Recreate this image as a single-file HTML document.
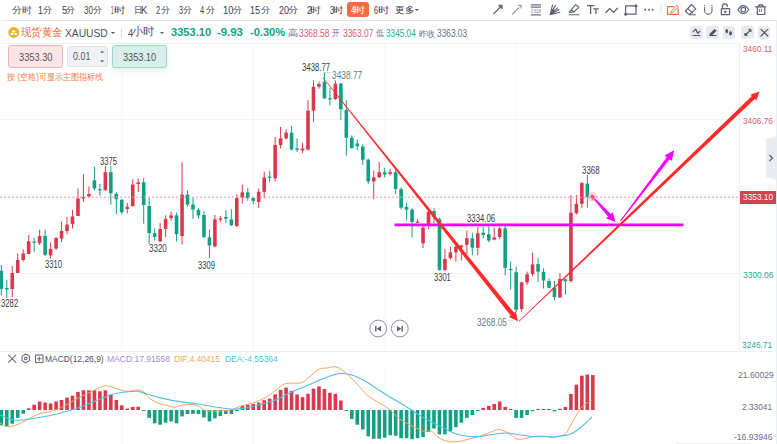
<!DOCTYPE html>
<html><head><meta charset="utf-8">
<style>
*{box-sizing:border-box;margin:0;padding:0}
html,body{width:777px;height:444px;overflow:hidden;background:#fff}
body{position:relative;font-family:"Liberation Sans",sans-serif;color:#333}
.a{position:absolute;white-space:nowrap;line-height:1}
.tb{font-size:9.3px;color:#3d4150;top:5.8px}
.hl{position:absolute;height:1px;background:#e3e5ec}
.ic{position:absolute}
.ax{position:absolute;font-size:9px;line-height:1;white-space:nowrap}
.lbl{position:absolute;font-size:9.5px;line-height:1;white-space:nowrap;color:#333}
.tx{position:absolute;white-space:nowrap;line-height:1;transform-origin:0 0}
.btn{position:absolute;top:26px;width:13px;height:14px;background:#e8eaf0;border-radius:3px}
</style></head><body>
<!-- toolbar row -->
<div class="a" style="left:347px;top:2px;width:22px;height:15px;background:#fd6a3e;border-radius:3px"></div>
<div class="a" style="left:414.5px;top:8.8px;width:0;height:0;border-left:2.2px solid transparent;border-right:2.2px solid transparent;border-top:2.8px solid #555"></div>
<div class="hl" style="left:1px;top:19.5px;width:775px;height:1.5px;background:#e2e4eb"></div>

<!-- toolbar icons -->
<svg class="ic" style="left:480px;top:0" width="297" height="20" viewBox="480 0 297 20">
 <g fill="none" stroke="#5d6275" stroke-width="1.2" stroke-linecap="round" stroke-linejoin="round">
  <path d="M493.8 13.6 L500.5 7" stroke-width="1.3"/><path d="M498.8 5.2 L502.3 5.2 L502.1 8.7 Z" fill="#5d6275" stroke-width="0.8"/>
  <path d="M512.8 13.8 L519.3 7.4" stroke-dasharray="1.1 1.3" stroke="#7d8295" stroke-width="1.2"/><path d="M518.6 5.4 L521.2 5.4 L521 8" stroke="#7d8295" stroke-width="1"/>
  <path d="M530.8 4.9 H541 M530.8 7.2 H541 M530.8 14.8 H541" stroke-width="1.3" stroke="#6d7285" stroke-linecap="butt"/>
  <path d="M550.2 14.6 L552.5 5 M550.2 14.6 L555.4 5.6 M550.2 14.6 L557.5 7.8 M550.2 14.6 L559 9.6 M550.2 14.6 L559.8 12.3" stroke-width="1.1"/>
  <path d="M550.2 14.6 L552 9 L555.5 10.5 Z" fill="#5d6275" stroke="none"/>
  <path d="M569.3 12.4 L575.6 4.6 L578.9 7.3 L573.8 12 Z M571.2 9.6 L573.8 12" stroke-width="1.1"/><path d="M569.2 14.8 H578.9" stroke-width="1.1"/>
  <path d="M587 5.7 H594.4 M590.6 5.7 V13.9 M593.2 8.8 H598.8 M595.9 8.8 V13.9" stroke-width="1.3" stroke-linecap="butt"/>
  <path d="M605.9 12.6 L609.7 8.5 L613.6 12.4 L617.5 8.2" stroke-width="1.3"/>
  <rect x="625.6" y="5.8" width="10.4" height="8.4" stroke-width="1.2"/><circle cx="636" cy="5.8" r="0.9" fill="#5d6275"/><circle cx="625.6" cy="14.2" r="0.9" fill="#5d6275"/>
  <circle cx="645.2" cy="9.8" r="1" fill="#5d6275" stroke="none"/><circle cx="649" cy="9.8" r="1" fill="#5d6275" stroke="none"/><circle cx="652.6" cy="9.8" r="1" fill="#5d6275" stroke="none"/>
  <path d="M660.9 5.3 V13.6" stroke="#e6e8ee" stroke-width="1.2"/>
  <path d="M673.5 6.6 H667.6 V14.4 H678.2 V9.2" stroke="#fc6d42" stroke-width="1.2"/><path d="M671.2 11.6 L676.8 5.2 L678.6 6.8 L672.6 12.8 L671 13 Z" stroke="#fc6d42" stroke-width="1"/>
  <path d="M685.3 11 L691.6 4.5 L695.8 8.8 L689.2 14.6 Z M687.8 8.6 L692.4 12.8 M689.2 14.7 H695.5" stroke-width="1.1"/>
  <path d="M704.6 7.2 V10.4 A3.7 3.7 0 0 0 712 10.4 V7.2" stroke-width="1.05"/><circle cx="704.6" cy="5.3" r="0.65" fill="#5d6275" stroke="none"/><circle cx="712" cy="5.3" r="0.65" fill="#5d6275" stroke="none"/>
  <rect x="721.3" y="8.6" width="8.3" height="6" rx="0.6" stroke-width="1.2"/><path d="M722.4 8.6 V6.8 A2.6 2.6 0 0 1 727.6 6.3" stroke-width="1.2"/><circle cx="725.3" cy="12" r="0.6" fill="#5d6275"/>
  <path d="M737.9 9.7 Q743.3 1.6 748.7 9.7 Q743.3 17.8 737.9 9.7 Z" stroke-width="1.1"/><circle cx="743.3" cy="9.7" r="2.3" stroke-width="1.1"/>
  <path d="M755.4 6.8 H765.8 M758.3 6.3 L759 5 H762.5 L763.2 6.3" stroke-width="1.3"/><path d="M757.3 7.6 V14.5 H764.8 V7.6" stroke-width="1.2"/><path d="M759.6 9.2 V11.5 M761.4 9.2 V11.5" stroke-width="0.9"/>
 </g>
 <text x="531" y="12.7" font-family="Liberation Sans" font-size="4.6" fill="#6d7285" textLength="10" lengthAdjust="spacingAndGlyphs">0.618</text>
</svg>

<!-- chart svg -->
<div class="a" style="left:739px;top:43px;width:1px;height:308px;background:#eceef2"></div>
<div class="a" style="left:775.5px;top:20px;width:1px;height:424px;background:#eceef2"></div>
<div class="hl" style="left:0;top:350.5px;width:776px;background:#eceef2"></div>

<svg class="ic" style="left:0;top:0" width="777" height="444" viewBox="0 0 777 444">
<line x1="122" y1="43" x2="122" y2="351" stroke="#f4f5f8" stroke-width="1"/>
<line x1="122" y1="365" x2="122" y2="444" stroke="#f4f5f8" stroke-width="1"/>
<line x1="253.5" y1="43" x2="253.5" y2="351" stroke="#f4f5f8" stroke-width="1"/>
<line x1="253.5" y1="365" x2="253.5" y2="444" stroke="#f4f5f8" stroke-width="1"/>
<line x1="385" y1="43" x2="385" y2="351" stroke="#f4f5f8" stroke-width="1"/>
<line x1="385" y1="365" x2="385" y2="444" stroke="#f4f5f8" stroke-width="1"/>
<line x1="516" y1="43" x2="516" y2="351" stroke="#f4f5f8" stroke-width="1"/>
<line x1="516" y1="365" x2="516" y2="444" stroke="#f4f5f8" stroke-width="1"/>
<line x1="0" y1="119.5" x2="739" y2="119.5" stroke="#f4f5f8" stroke-width="1"/>
<line x1="0" y1="273.5" x2="739" y2="273.5" stroke="#f4f5f8" stroke-width="1"/>
<line x1="1.30" y1="265.0" x2="1.30" y2="295.5" stroke="#11a083" stroke-width="1"/>
<rect x="-0.50" y="270.7" width="3.6" height="18.30" fill="#11a083"/>
<line x1="6.78" y1="279.8" x2="6.78" y2="298.0" stroke="#11a083" stroke-width="1"/>
<rect x="4.98" y="288.0" width="3.6" height="1.50" fill="#11a083"/>
<line x1="12.25" y1="266.0" x2="12.25" y2="297.5" stroke="#d9394e" stroke-width="1"/>
<rect x="10.45" y="273.0" width="3.6" height="16.00" fill="#d9394e"/>
<line x1="17.73" y1="253.5" x2="17.73" y2="273.0" stroke="#d9394e" stroke-width="1"/>
<rect x="15.93" y="260.0" width="3.6" height="13.00" fill="#d9394e"/>
<line x1="23.21" y1="249.4" x2="23.21" y2="261.6" stroke="#d9394e" stroke-width="1"/>
<rect x="21.41" y="253.5" width="3.6" height="6.50" fill="#d9394e"/>
<line x1="28.69" y1="235.0" x2="28.69" y2="254.0" stroke="#d9394e" stroke-width="1"/>
<rect x="26.89" y="241.3" width="3.6" height="12.70" fill="#d9394e"/>
<line x1="34.16" y1="237.8" x2="34.16" y2="251.8" stroke="#11a083" stroke-width="1"/>
<rect x="32.36" y="241.5" width="3.6" height="1.20" fill="#11a083"/>
<line x1="39.64" y1="229.7" x2="39.64" y2="245.0" stroke="#d9394e" stroke-width="1"/>
<rect x="37.84" y="236.0" width="3.6" height="7.20" fill="#d9394e"/>
<line x1="45.12" y1="229.7" x2="45.12" y2="256.0" stroke="#11a083" stroke-width="1"/>
<rect x="43.32" y="236.0" width="3.6" height="18.90" fill="#11a083"/>
<line x1="50.59" y1="242.4" x2="50.59" y2="258.6" stroke="#d9394e" stroke-width="1"/>
<rect x="48.79" y="249.0" width="3.6" height="6.40" fill="#d9394e"/>
<line x1="56.07" y1="237.0" x2="56.07" y2="250.0" stroke="#d9394e" stroke-width="1"/>
<rect x="54.27" y="238.0" width="3.6" height="10.60" fill="#d9394e"/>
<line x1="61.55" y1="221.6" x2="61.55" y2="242.0" stroke="#d9394e" stroke-width="1"/>
<rect x="59.75" y="231.0" width="3.6" height="7.60" fill="#d9394e"/>
<line x1="67.02" y1="217.0" x2="67.02" y2="234.3" stroke="#d9394e" stroke-width="1"/>
<rect x="65.22" y="224.6" width="3.6" height="6.40" fill="#d9394e"/>
<line x1="72.50" y1="210.0" x2="72.50" y2="228.4" stroke="#d9394e" stroke-width="1"/>
<rect x="70.70" y="216.5" width="3.6" height="7.50" fill="#d9394e"/>
<line x1="77.98" y1="188.4" x2="77.98" y2="216.0" stroke="#d9394e" stroke-width="1"/>
<rect x="76.18" y="198.6" width="3.6" height="17.40" fill="#d9394e"/>
<line x1="83.45" y1="174.3" x2="83.45" y2="201.9" stroke="#d9394e" stroke-width="1"/>
<rect x="81.66" y="197.0" width="3.6" height="1.60" fill="#d9394e"/>
<line x1="88.93" y1="186.5" x2="88.93" y2="197.6" stroke="#d9394e" stroke-width="1"/>
<rect x="87.13" y="194.0" width="3.6" height="2.50" fill="#d9394e"/>
<line x1="94.41" y1="166.8" x2="94.41" y2="190.5" stroke="#11a083" stroke-width="1"/>
<rect x="92.61" y="180.3" width="3.6" height="8.10" fill="#11a083"/>
<line x1="99.89" y1="183.8" x2="99.89" y2="196.0" stroke="#11a083" stroke-width="1"/>
<rect x="98.09" y="189.2" width="3.6" height="1.30" fill="#11a083"/>
<line x1="105.36" y1="165.7" x2="105.36" y2="191.0" stroke="#d9394e" stroke-width="1"/>
<rect x="103.56" y="172.2" width="3.6" height="17.80" fill="#d9394e"/>
<line x1="110.84" y1="166.2" x2="110.84" y2="204.6" stroke="#11a083" stroke-width="1"/>
<rect x="109.04" y="172.2" width="3.6" height="21.00" fill="#11a083"/>
<line x1="116.32" y1="191.9" x2="116.32" y2="214.3" stroke="#11a083" stroke-width="1"/>
<rect x="114.52" y="193.8" width="3.6" height="5.40" fill="#11a083"/>
<line x1="121.79" y1="199.2" x2="121.79" y2="214.3" stroke="#11a083" stroke-width="1"/>
<rect x="119.99" y="199.7" width="3.6" height="12.50" fill="#11a083"/>
<line x1="127.27" y1="202.7" x2="127.27" y2="213.5" stroke="#d9394e" stroke-width="1"/>
<rect x="125.47" y="206.8" width="3.6" height="2.20" fill="#d9394e"/>
<line x1="132.75" y1="179.2" x2="132.75" y2="206.2" stroke="#d9394e" stroke-width="1"/>
<rect x="130.95" y="184.6" width="3.6" height="21.60" fill="#d9394e"/>
<line x1="138.23" y1="178.4" x2="138.23" y2="191.9" stroke="#d9394e" stroke-width="1"/>
<rect x="136.43" y="182.4" width="3.6" height="1.60" fill="#d9394e"/>
<line x1="143.70" y1="178.1" x2="143.70" y2="223.7" stroke="#11a083" stroke-width="1"/>
<rect x="141.90" y="182.3" width="3.6" height="22.80" fill="#11a083"/>
<line x1="149.18" y1="197.9" x2="149.18" y2="243.9" stroke="#11a083" stroke-width="1"/>
<rect x="147.38" y="206.0" width="3.6" height="27.00" fill="#11a083"/>
<line x1="154.66" y1="228.4" x2="154.66" y2="240.5" stroke="#11a083" stroke-width="1"/>
<rect x="152.86" y="233.2" width="3.6" height="3.80" fill="#11a083"/>
<line x1="160.13" y1="223.0" x2="160.13" y2="241.9" stroke="#d9394e" stroke-width="1"/>
<rect x="158.33" y="229.0" width="3.6" height="12.40" fill="#d9394e"/>
<line x1="165.61" y1="215.4" x2="165.61" y2="237.0" stroke="#d9394e" stroke-width="1"/>
<rect x="163.81" y="218.9" width="3.6" height="10.10" fill="#d9394e"/>
<line x1="171.09" y1="211.6" x2="171.09" y2="220.8" stroke="#d9394e" stroke-width="1"/>
<rect x="169.29" y="215.4" width="3.6" height="2.70" fill="#d9394e"/>
<line x1="176.56" y1="212.7" x2="176.56" y2="241.4" stroke="#11a083" stroke-width="1"/>
<rect x="174.76" y="215.4" width="3.6" height="18.90" fill="#11a083"/>
<line x1="182.04" y1="162.2" x2="182.04" y2="244.6" stroke="#d9394e" stroke-width="1"/>
<rect x="180.24" y="194.6" width="3.6" height="41.40" fill="#d9394e"/>
<line x1="187.52" y1="190.5" x2="187.52" y2="206.8" stroke="#11a083" stroke-width="1"/>
<rect x="185.72" y="194.6" width="3.6" height="10.00" fill="#11a083"/>
<line x1="193.00" y1="197.3" x2="193.00" y2="218.9" stroke="#11a083" stroke-width="1"/>
<rect x="191.20" y="204.6" width="3.6" height="4.90" fill="#11a083"/>
<line x1="198.47" y1="208.0" x2="198.47" y2="218.9" stroke="#11a083" stroke-width="1"/>
<rect x="196.67" y="210.0" width="3.6" height="5.40" fill="#11a083"/>
<line x1="203.95" y1="211.0" x2="203.95" y2="238.0" stroke="#11a083" stroke-width="1"/>
<rect x="202.15" y="215.0" width="3.6" height="22.00" fill="#11a083"/>
<line x1="209.43" y1="229.5" x2="209.43" y2="258.2" stroke="#11a083" stroke-width="1"/>
<rect x="207.63" y="237.3" width="3.6" height="8.10" fill="#11a083"/>
<line x1="214.90" y1="215.0" x2="214.90" y2="247.4" stroke="#d9394e" stroke-width="1"/>
<rect x="213.10" y="219.4" width="3.6" height="27.00" fill="#d9394e"/>
<line x1="220.38" y1="216.0" x2="220.38" y2="221.8" stroke="#d9394e" stroke-width="1"/>
<rect x="218.58" y="218.4" width="3.6" height="1.30" fill="#d9394e"/>
<line x1="225.86" y1="210.3" x2="225.86" y2="222.8" stroke="#11a083" stroke-width="1"/>
<rect x="224.06" y="217.0" width="3.6" height="1.70" fill="#11a083"/>
<line x1="231.33" y1="209.3" x2="231.33" y2="226.0" stroke="#11a083" stroke-width="1"/>
<rect x="229.53" y="219.4" width="3.6" height="5.70" fill="#11a083"/>
<line x1="236.81" y1="194.0" x2="236.81" y2="227.0" stroke="#d9394e" stroke-width="1"/>
<rect x="235.01" y="198.0" width="3.6" height="28.00" fill="#d9394e"/>
<line x1="242.29" y1="184.6" x2="242.29" y2="203.5" stroke="#d9394e" stroke-width="1"/>
<rect x="240.49" y="192.4" width="3.6" height="5.00" fill="#d9394e"/>
<line x1="247.77" y1="188.0" x2="247.77" y2="200.8" stroke="#11a083" stroke-width="1"/>
<rect x="245.97" y="192.4" width="3.6" height="5.60" fill="#11a083"/>
<line x1="253.24" y1="196.8" x2="253.24" y2="204.2" stroke="#11a083" stroke-width="1"/>
<rect x="251.44" y="198.0" width="3.6" height="2.80" fill="#11a083"/>
<line x1="258.72" y1="188.4" x2="258.72" y2="208.0" stroke="#d9394e" stroke-width="1"/>
<rect x="256.92" y="191.8" width="3.6" height="10.10" fill="#d9394e"/>
<line x1="264.20" y1="171.5" x2="264.20" y2="198.5" stroke="#d9394e" stroke-width="1"/>
<rect x="262.40" y="177.6" width="3.6" height="14.20" fill="#d9394e"/>
<line x1="269.67" y1="170.8" x2="269.67" y2="182.3" stroke="#11a083" stroke-width="1"/>
<rect x="267.87" y="176.6" width="3.6" height="1.20" fill="#11a083"/>
<line x1="275.15" y1="137.0" x2="275.15" y2="181.6" stroke="#d9394e" stroke-width="1"/>
<rect x="273.35" y="145.0" width="3.6" height="33.20" fill="#d9394e"/>
<line x1="280.63" y1="126.9" x2="280.63" y2="148.5" stroke="#d9394e" stroke-width="1"/>
<rect x="278.83" y="138.4" width="3.6" height="6.60" fill="#d9394e"/>
<line x1="286.10" y1="129.3" x2="286.10" y2="139.4" stroke="#d9394e" stroke-width="1"/>
<rect x="284.30" y="132.6" width="3.6" height="5.80" fill="#d9394e"/>
<line x1="291.58" y1="125.9" x2="291.58" y2="150.5" stroke="#11a083" stroke-width="1"/>
<rect x="289.78" y="132.6" width="3.6" height="16.90" fill="#11a083"/>
<line x1="297.06" y1="138.4" x2="297.06" y2="151.9" stroke="#11a083" stroke-width="1"/>
<rect x="295.26" y="148.5" width="3.6" height="1.40" fill="#11a083"/>
<line x1="302.54" y1="142.8" x2="302.54" y2="152.9" stroke="#d9394e" stroke-width="1"/>
<rect x="300.74" y="148.5" width="3.6" height="2.00" fill="#d9394e"/>
<line x1="308.01" y1="99.9" x2="308.01" y2="150.5" stroke="#d9394e" stroke-width="1"/>
<rect x="306.21" y="110.7" width="3.6" height="38.80" fill="#d9394e"/>
<line x1="313.49" y1="80.3" x2="313.49" y2="121.9" stroke="#d9394e" stroke-width="1"/>
<rect x="311.69" y="86.8" width="3.6" height="23.90" fill="#d9394e"/>
<line x1="318.97" y1="81.6" x2="318.97" y2="88.8" stroke="#d9394e" stroke-width="1"/>
<rect x="317.17" y="84.0" width="3.6" height="2.80" fill="#d9394e"/>
<line x1="324.44" y1="72.6" x2="324.44" y2="98.9" stroke="#11a083" stroke-width="1"/>
<rect x="322.64" y="81.8" width="3.6" height="16.50" fill="#11a083"/>
<line x1="329.92" y1="88.0" x2="329.92" y2="105.5" stroke="#11a083" stroke-width="1"/>
<rect x="328.12" y="98.2" width="3.6" height="1.20" fill="#11a083"/>
<line x1="335.40" y1="80.3" x2="335.40" y2="100.0" stroke="#d9394e" stroke-width="1"/>
<rect x="333.60" y="83.7" width="3.6" height="15.30" fill="#d9394e"/>
<line x1="340.87" y1="83.0" x2="340.87" y2="119.9" stroke="#11a083" stroke-width="1"/>
<rect x="339.07" y="83.7" width="3.6" height="25.50" fill="#11a083"/>
<line x1="346.35" y1="100.4" x2="346.35" y2="155.7" stroke="#11a083" stroke-width="1"/>
<rect x="344.55" y="109.9" width="3.6" height="27.90" fill="#11a083"/>
<line x1="351.83" y1="135.4" x2="351.83" y2="148.9" stroke="#11a083" stroke-width="1"/>
<rect x="350.03" y="137.8" width="3.6" height="10.10" fill="#11a083"/>
<line x1="357.31" y1="139.5" x2="357.31" y2="150.3" stroke="#11a083" stroke-width="1"/>
<rect x="355.50" y="143.5" width="3.6" height="2.70" fill="#11a083"/>
<line x1="362.78" y1="144.3" x2="362.78" y2="165.0" stroke="#11a083" stroke-width="1"/>
<rect x="360.98" y="146.5" width="3.6" height="13.20" fill="#11a083"/>
<line x1="368.26" y1="158.7" x2="368.26" y2="184.0" stroke="#11a083" stroke-width="1"/>
<rect x="366.46" y="159.7" width="3.6" height="21.70" fill="#11a083"/>
<line x1="373.74" y1="170.5" x2="373.74" y2="199.3" stroke="#d9394e" stroke-width="1"/>
<rect x="371.94" y="177.3" width="3.6" height="4.10" fill="#d9394e"/>
<line x1="379.21" y1="162.1" x2="379.21" y2="178.0" stroke="#d9394e" stroke-width="1"/>
<rect x="377.41" y="172.2" width="3.6" height="5.10" fill="#d9394e"/>
<line x1="384.69" y1="167.8" x2="384.69" y2="177.3" stroke="#11a083" stroke-width="1"/>
<rect x="382.89" y="172.2" width="3.6" height="2.40" fill="#11a083"/>
<line x1="390.17" y1="168.9" x2="390.17" y2="175.6" stroke="#d9394e" stroke-width="1"/>
<rect x="388.37" y="172.2" width="3.6" height="1.70" fill="#d9394e"/>
<line x1="395.64" y1="169.9" x2="395.64" y2="194.2" stroke="#11a083" stroke-width="1"/>
<rect x="393.84" y="172.2" width="3.6" height="16.90" fill="#11a083"/>
<line x1="401.12" y1="187.4" x2="401.12" y2="209.4" stroke="#11a083" stroke-width="1"/>
<rect x="399.32" y="189.1" width="3.6" height="18.60" fill="#11a083"/>
<line x1="406.60" y1="202.6" x2="406.60" y2="220.5" stroke="#11a083" stroke-width="1"/>
<rect x="404.80" y="207.0" width="3.6" height="2.70" fill="#11a083"/>
<line x1="412.08" y1="208.4" x2="412.08" y2="237.4" stroke="#11a083" stroke-width="1"/>
<rect x="410.28" y="209.6" width="3.6" height="12.40" fill="#11a083"/>
<line x1="417.55" y1="219.2" x2="417.55" y2="223.0" stroke="#d9394e" stroke-width="1"/>
<rect x="415.75" y="221.7" width="3.6" height="1.20" fill="#d9394e"/>
<line x1="423.03" y1="224.7" x2="423.03" y2="248.2" stroke="#d9394e" stroke-width="1"/>
<rect x="421.23" y="227.7" width="3.6" height="15.60" fill="#d9394e"/>
<line x1="428.51" y1="210.3" x2="428.51" y2="229.1" stroke="#d9394e" stroke-width="1"/>
<rect x="426.71" y="211.8" width="3.6" height="12.90" fill="#d9394e"/>
<line x1="433.98" y1="207.8" x2="433.98" y2="223.4" stroke="#11a083" stroke-width="1"/>
<rect x="432.18" y="211.0" width="3.6" height="5.80" fill="#11a083"/>
<line x1="439.46" y1="217.8" x2="439.46" y2="270.5" stroke="#11a083" stroke-width="1"/>
<rect x="437.66" y="219.2" width="3.6" height="50.80" fill="#11a083"/>
<line x1="444.94" y1="249.1" x2="444.94" y2="271.3" stroke="#d9394e" stroke-width="1"/>
<rect x="443.14" y="259.0" width="3.6" height="11.00" fill="#d9394e"/>
<line x1="450.41" y1="246.8" x2="450.41" y2="259.4" stroke="#d9394e" stroke-width="1"/>
<rect x="448.61" y="252.3" width="3.6" height="5.80" fill="#d9394e"/>
<line x1="455.89" y1="244.6" x2="455.89" y2="261.6" stroke="#d9394e" stroke-width="1"/>
<rect x="454.09" y="246.8" width="3.6" height="5.50" fill="#d9394e"/>
<line x1="461.37" y1="244.6" x2="461.37" y2="260.5" stroke="#d9394e" stroke-width="1"/>
<rect x="459.57" y="245.5" width="3.6" height="1.80" fill="#d9394e"/>
<line x1="466.85" y1="230.6" x2="466.85" y2="254.0" stroke="#d9394e" stroke-width="1"/>
<rect x="465.05" y="238.3" width="3.6" height="6.50" fill="#d9394e"/>
<line x1="472.32" y1="232.7" x2="472.32" y2="255.2" stroke="#11a083" stroke-width="1"/>
<rect x="470.52" y="238.3" width="3.6" height="9.30" fill="#11a083"/>
<line x1="477.80" y1="226.6" x2="477.80" y2="255.2" stroke="#d9394e" stroke-width="1"/>
<rect x="476.00" y="233.3" width="3.6" height="14.40" fill="#d9394e"/>
<line x1="483.28" y1="226.6" x2="483.28" y2="238.3" stroke="#11a083" stroke-width="1"/>
<rect x="481.48" y="232.7" width="3.6" height="2.20" fill="#11a083"/>
<line x1="488.75" y1="226.6" x2="488.75" y2="242.3" stroke="#11a083" stroke-width="1"/>
<rect x="486.95" y="234.2" width="3.6" height="6.30" fill="#11a083"/>
<line x1="494.23" y1="227.6" x2="494.23" y2="240.5" stroke="#d9394e" stroke-width="1"/>
<rect x="492.43" y="237.5" width="3.6" height="2.00" fill="#d9394e"/>
<line x1="499.71" y1="226.8" x2="499.71" y2="239.2" stroke="#d9394e" stroke-width="1"/>
<rect x="497.91" y="228.4" width="3.6" height="8.60" fill="#d9394e"/>
<line x1="505.18" y1="225.7" x2="505.18" y2="275.4" stroke="#11a083" stroke-width="1"/>
<rect x="503.38" y="228.4" width="3.6" height="39.70" fill="#11a083"/>
<line x1="510.66" y1="261.4" x2="510.66" y2="289.7" stroke="#11a083" stroke-width="1"/>
<rect x="508.86" y="268.9" width="3.6" height="1.20" fill="#11a083"/>
<line x1="516.14" y1="266.8" x2="516.14" y2="312.2" stroke="#11a083" stroke-width="1"/>
<rect x="514.34" y="272.2" width="3.6" height="37.50" fill="#11a083"/>
<line x1="521.62" y1="281.6" x2="521.62" y2="311.8" stroke="#d9394e" stroke-width="1"/>
<rect x="519.82" y="282.4" width="3.6" height="26.60" fill="#d9394e"/>
<line x1="527.09" y1="271.6" x2="527.09" y2="285.1" stroke="#d9394e" stroke-width="1"/>
<rect x="525.29" y="274.3" width="3.6" height="8.10" fill="#d9394e"/>
<line x1="532.57" y1="252.5" x2="532.57" y2="276.3" stroke="#d9394e" stroke-width="1"/>
<rect x="530.77" y="264.4" width="3.6" height="9.60" fill="#d9394e"/>
<line x1="538.05" y1="258.1" x2="538.05" y2="281.8" stroke="#11a083" stroke-width="1"/>
<rect x="536.25" y="264.2" width="3.6" height="7.40" fill="#11a083"/>
<line x1="543.52" y1="268.5" x2="543.52" y2="288.5" stroke="#11a083" stroke-width="1"/>
<rect x="541.72" y="271.8" width="3.6" height="8.80" fill="#11a083"/>
<line x1="549.00" y1="278.4" x2="549.00" y2="288.4" stroke="#11a083" stroke-width="1"/>
<rect x="547.20" y="281.0" width="3.6" height="6.70" fill="#11a083"/>
<line x1="554.48" y1="281.0" x2="554.48" y2="300.3" stroke="#11a083" stroke-width="1"/>
<rect x="552.68" y="287.6" width="3.6" height="9.40" fill="#11a083"/>
<line x1="559.95" y1="273.2" x2="559.95" y2="297.6" stroke="#d9394e" stroke-width="1"/>
<rect x="558.15" y="279.0" width="3.6" height="18.60" fill="#d9394e"/>
<line x1="565.43" y1="278.6" x2="565.43" y2="294.6" stroke="#11a083" stroke-width="1"/>
<rect x="563.63" y="279.2" width="3.6" height="2.20" fill="#11a083"/>
<line x1="570.91" y1="194.9" x2="570.91" y2="283.0" stroke="#d9394e" stroke-width="1"/>
<rect x="569.11" y="212.7" width="3.6" height="68.30" fill="#d9394e"/>
<line x1="576.38" y1="194.9" x2="576.38" y2="214.6" stroke="#d9394e" stroke-width="1"/>
<rect x="574.59" y="203.8" width="3.6" height="9.40" fill="#d9394e"/>
<line x1="581.86" y1="182.2" x2="581.86" y2="207.8" stroke="#d9394e" stroke-width="1"/>
<rect x="580.06" y="183.0" width="3.6" height="20.80" fill="#d9394e"/>
<line x1="587.34" y1="174.9" x2="587.34" y2="207.8" stroke="#11a083" stroke-width="1"/>
<rect x="585.54" y="183.5" width="3.6" height="13.50" fill="#11a083"/>
<line x1="592.82" y1="194.9" x2="592.82" y2="200.5" stroke="#d9394e" stroke-width="1"/>
<rect x="591.02" y="196.2" width="3.6" height="1.20" fill="#d9394e"/>
<rect x="-0.50" y="410" width="3.6" height="15.30" fill="#11a083"/>
<rect x="4.98" y="410" width="3.6" height="16.60" fill="#11a083"/>
<rect x="10.45" y="410" width="3.6" height="13.70" fill="#11a083"/>
<rect x="15.93" y="410" width="3.6" height="7.90" fill="#11a083"/>
<rect x="21.41" y="410" width="3.6" height="3.70" fill="#11a083"/>
<rect x="26.89" y="408.3" width="3.6" height="1.70" fill="#d9394e"/>
<rect x="32.36" y="404.8" width="3.6" height="5.20" fill="#d9394e"/>
<rect x="37.84" y="401.5" width="3.6" height="8.50" fill="#d9394e"/>
<rect x="43.32" y="402.5" width="3.6" height="7.50" fill="#d9394e"/>
<rect x="48.79" y="403.4" width="3.6" height="6.60" fill="#d9394e"/>
<rect x="54.27" y="401.5" width="3.6" height="8.50" fill="#d9394e"/>
<rect x="59.75" y="400.0" width="3.6" height="10.00" fill="#d9394e"/>
<rect x="65.22" y="397.6" width="3.6" height="12.40" fill="#d9394e"/>
<rect x="70.70" y="395.7" width="3.6" height="14.30" fill="#d9394e"/>
<rect x="76.18" y="391.9" width="3.6" height="18.10" fill="#d9394e"/>
<rect x="81.66" y="390.3" width="3.6" height="19.70" fill="#d9394e"/>
<rect x="87.13" y="390.3" width="3.6" height="19.70" fill="#d9394e"/>
<rect x="92.61" y="390.3" width="3.6" height="19.70" fill="#d9394e"/>
<rect x="98.09" y="391.3" width="3.6" height="18.70" fill="#d9394e"/>
<rect x="103.56" y="390.3" width="3.6" height="19.70" fill="#d9394e"/>
<rect x="109.04" y="394.7" width="3.6" height="15.30" fill="#d9394e"/>
<rect x="114.52" y="400.0" width="3.6" height="10.00" fill="#d9394e"/>
<rect x="119.99" y="405.4" width="3.6" height="4.60" fill="#d9394e"/>
<rect x="125.47" y="408.6" width="3.6" height="1.40" fill="#d9394e"/>
<rect x="130.95" y="406.9" width="3.6" height="3.10" fill="#d9394e"/>
<rect x="136.43" y="406.7" width="3.6" height="3.30" fill="#d9394e"/>
<rect x="141.90" y="410" width="3.6" height="1.00" fill="#11a083"/>
<rect x="147.38" y="410" width="3.6" height="7.90" fill="#11a083"/>
<rect x="152.86" y="410" width="3.6" height="13.30" fill="#11a083"/>
<rect x="158.33" y="410" width="3.6" height="14.70" fill="#11a083"/>
<rect x="163.81" y="410" width="3.6" height="12.70" fill="#11a083"/>
<rect x="169.29" y="410" width="3.6" height="11.40" fill="#11a083"/>
<rect x="174.76" y="410" width="3.6" height="13.30" fill="#11a083"/>
<rect x="180.24" y="410" width="3.6" height="6.40" fill="#11a083"/>
<rect x="185.72" y="410" width="3.6" height="4.00" fill="#11a083"/>
<rect x="191.20" y="410" width="3.6" height="3.70" fill="#11a083"/>
<rect x="196.67" y="410" width="3.6" height="4.00" fill="#11a083"/>
<rect x="202.15" y="410" width="3.6" height="7.50" fill="#11a083"/>
<rect x="207.63" y="410" width="3.6" height="11.40" fill="#11a083"/>
<rect x="213.10" y="410" width="3.6" height="8.30" fill="#11a083"/>
<rect x="218.58" y="410" width="3.6" height="6.00" fill="#11a083"/>
<rect x="224.06" y="410" width="3.6" height="4.00" fill="#11a083"/>
<rect x="229.53" y="410" width="3.6" height="4.00" fill="#11a083"/>
<rect x="235.01" y="410" width="3.6" height="1.00" fill="#11a083"/>
<rect x="240.49" y="405.9" width="3.6" height="4.10" fill="#d9394e"/>
<rect x="245.97" y="404.8" width="3.6" height="5.20" fill="#d9394e"/>
<rect x="251.44" y="404.0" width="3.6" height="6.00" fill="#d9394e"/>
<rect x="256.92" y="402.5" width="3.6" height="7.50" fill="#d9394e"/>
<rect x="262.40" y="400.2" width="3.6" height="9.80" fill="#d9394e"/>
<rect x="267.87" y="398.6" width="3.6" height="11.40" fill="#d9394e"/>
<rect x="273.35" y="394.4" width="3.6" height="15.60" fill="#d9394e"/>
<rect x="278.83" y="389.9" width="3.6" height="20.10" fill="#d9394e"/>
<rect x="284.30" y="387.6" width="3.6" height="22.40" fill="#d9394e"/>
<rect x="289.78" y="390.9" width="3.6" height="19.10" fill="#d9394e"/>
<rect x="295.26" y="394.4" width="3.6" height="15.60" fill="#d9394e"/>
<rect x="300.74" y="397.1" width="3.6" height="12.90" fill="#d9394e"/>
<rect x="306.21" y="393.8" width="3.6" height="16.20" fill="#d9394e"/>
<rect x="311.69" y="388.6" width="3.6" height="21.40" fill="#d9394e"/>
<rect x="317.17" y="386.4" width="3.6" height="23.60" fill="#d9394e"/>
<rect x="322.64" y="389.0" width="3.6" height="21.00" fill="#d9394e"/>
<rect x="328.12" y="392.8" width="3.6" height="17.20" fill="#d9394e"/>
<rect x="333.60" y="393.8" width="3.6" height="16.20" fill="#d9394e"/>
<rect x="339.07" y="400.5" width="3.6" height="9.50" fill="#d9394e"/>
<rect x="344.55" y="410" width="3.6" height="1.00" fill="#11a083"/>
<rect x="350.03" y="410" width="3.6" height="8.90" fill="#11a083"/>
<rect x="355.50" y="410" width="3.6" height="14.70" fill="#11a083"/>
<rect x="360.98" y="410" width="3.6" height="19.50" fill="#11a083"/>
<rect x="366.46" y="410" width="3.6" height="26.30" fill="#11a083"/>
<rect x="371.94" y="410" width="3.6" height="28.80" fill="#11a083"/>
<rect x="377.41" y="410" width="3.6" height="28.80" fill="#11a083"/>
<rect x="382.89" y="410" width="3.6" height="27.60" fill="#11a083"/>
<rect x="388.37" y="410" width="3.6" height="25.30" fill="#11a083"/>
<rect x="393.84" y="410" width="3.6" height="25.70" fill="#11a083"/>
<rect x="399.32" y="410" width="3.6" height="28.20" fill="#11a083"/>
<rect x="404.80" y="410" width="3.6" height="28.20" fill="#11a083"/>
<rect x="410.28" y="410" width="3.6" height="29.20" fill="#11a083"/>
<rect x="415.75" y="410" width="3.6" height="28.20" fill="#11a083"/>
<rect x="421.23" y="410" width="3.6" height="27.00" fill="#11a083"/>
<rect x="426.71" y="410" width="3.6" height="22.00" fill="#11a083"/>
<rect x="432.18" y="410" width="3.6" height="18.50" fill="#11a083"/>
<rect x="437.66" y="410" width="3.6" height="24.30" fill="#11a083"/>
<rect x="443.14" y="410" width="3.6" height="24.30" fill="#11a083"/>
<rect x="448.61" y="410" width="3.6" height="21.40" fill="#11a083"/>
<rect x="454.09" y="410" width="3.6" height="17.20" fill="#11a083"/>
<rect x="459.57" y="410" width="3.6" height="12.70" fill="#11a083"/>
<rect x="465.05" y="410" width="3.6" height="7.90" fill="#11a083"/>
<rect x="470.52" y="410" width="3.6" height="5.00" fill="#11a083"/>
<rect x="476.00" y="410" width="3.6" height="1.00" fill="#11a083"/>
<rect x="481.48" y="407.9" width="3.6" height="2.10" fill="#d9394e"/>
<rect x="486.95" y="406.0" width="3.6" height="4.00" fill="#d9394e"/>
<rect x="492.43" y="404.0" width="3.6" height="6.00" fill="#d9394e"/>
<rect x="497.91" y="401.5" width="3.6" height="8.50" fill="#d9394e"/>
<rect x="503.38" y="406.9" width="3.6" height="3.10" fill="#d9394e"/>
<rect x="508.86" y="409.0" width="3.6" height="1.00" fill="#d9394e"/>
<rect x="514.34" y="410" width="3.6" height="7.90" fill="#11a083"/>
<rect x="519.82" y="410" width="3.6" height="7.90" fill="#11a083"/>
<rect x="525.29" y="410" width="3.6" height="5.00" fill="#11a083"/>
<rect x="530.77" y="410" width="3.6" height="1.20" fill="#11a083"/>
<rect x="536.25" y="409.0" width="3.6" height="1.00" fill="#d9394e"/>
<rect x="541.72" y="409.0" width="3.6" height="1.00" fill="#d9394e"/>
<rect x="547.20" y="409.0" width="3.6" height="1.00" fill="#d9394e"/>
<rect x="552.68" y="410" width="3.6" height="1.40" fill="#11a083"/>
<rect x="558.15" y="408.8" width="3.6" height="1.20" fill="#d9394e"/>
<rect x="563.63" y="406.9" width="3.6" height="3.10" fill="#d9394e"/>
<rect x="569.11" y="394.0" width="3.6" height="16.00" fill="#d9394e"/>
<rect x="574.59" y="384.6" width="3.6" height="25.40" fill="#d9394e"/>
<rect x="580.06" y="375.7" width="3.6" height="34.30" fill="#d9394e"/>
<rect x="585.54" y="374.6" width="3.6" height="35.40" fill="#d9394e"/>
<rect x="591.02" y="375.1" width="3.6" height="34.90" fill="#d9394e"/>
<path d="M0,422.7 C1.28,423.35 4.48,426.43 7.7,426.6 C10.92,426.77 14.15,425.80 19.3,423.7 C24.45,421.60 33.45,416.00 38.6,414 C43.75,412.00 46.02,412.98 50.2,411.7 C54.38,410.42 59.20,408.48 63.7,406.3 C68.20,404.12 72.70,401.00 77.2,398.6 C81.70,396.20 86.20,394.00 90.7,391.9 C95.20,389.80 100.65,386.82 104.2,386 C107.75,385.18 108.45,386.12 112,387 C115.55,387.88 121.33,390.80 125.5,391.3 C129.67,391.80 133.95,389.90 137,390 C140.05,390.10 142.02,390.78 143.8,391.9 C145.58,393.02 145.43,394.87 147.7,396.7 C149.97,398.53 154.18,401.45 157.4,402.9 C160.62,404.35 164.12,404.67 167,405.4 C169.88,406.13 172.45,407.30 174.7,407.3 C176.95,407.30 177.92,405.88 180.5,405.4 C183.08,404.92 187.30,404.30 190.2,404.4 C193.10,404.50 195.33,404.97 197.9,406 C200.47,407.03 202.38,409.73 205.6,410.6 C208.82,411.47 213.02,411.33 217.2,411.2 C221.38,411.07 226.83,410.62 230.7,409.8 C234.57,408.98 236.85,407.37 240.4,406.3 C243.95,405.23 247.82,404.85 252,403.4 C256.18,401.95 261.65,399.68 265.5,397.6 C269.35,395.52 272.20,393.05 275.1,390.9 C278.00,388.75 280.42,385.98 282.9,384.7 C285.38,383.42 286.95,383.52 290,383.2 C293.05,382.88 298.03,383.77 301.2,382.8 C304.37,381.83 306.10,379.65 309,377.4 C311.90,375.15 315.72,370.85 318.6,369.3 C321.48,367.75 323.57,368.52 326.3,368.1 C329.03,367.68 332.42,366.53 335,366.8 C337.58,367.07 339.38,368.10 341.8,369.7 C344.22,371.30 346.93,374.00 349.5,376.4 C352.07,378.80 354.30,381.05 357.2,384.1 C360.10,387.15 363.68,391.80 366.9,394.7 C370.12,397.60 372.97,399.23 376.5,401.5 C380.03,403.77 384.23,405.40 388.1,408.3 C391.97,411.20 395.83,416.02 399.7,418.9 C403.57,421.78 407.43,423.58 411.3,425.6 C415.17,427.62 419.52,430.03 422.9,431 C426.28,431.97 428.87,430.20 431.6,431.4 C434.33,432.60 436.40,436.52 439.3,438.2 C442.20,439.88 445.78,440.95 449,441.5 C452.22,442.05 455.38,441.88 458.6,441.5 C461.82,441.12 465.08,439.98 468.3,439.2 C471.52,438.42 474.68,437.77 477.9,436.8 C481.12,435.83 484.05,434.62 487.6,433.4 C491.15,432.18 495.67,429.50 499.2,429.5 C502.73,429.50 505.92,431.85 508.8,433.4 C511.68,434.95 513.93,437.90 516.5,438.8 C519.07,439.70 520.98,439.22 524.2,438.8 C527.42,438.38 532.25,436.72 535.8,436.3 C539.35,435.88 542.60,436.08 545.5,436.3 C548.40,436.52 549.98,437.93 553.2,437.6 C556.42,437.27 562.00,436.13 564.8,434.3 C567.60,432.47 567.30,430.98 570,426.6 C572.70,422.22 577.33,412.43 581,408 C584.67,403.57 590.17,401.33 592,400" fill="none" stroke="#f5a55f" stroke-width="1.0"/>
<path d="M0,415 C1.62,415.65 6.48,418.03 9.7,418.9 C12.92,419.77 14.48,420.43 19.3,420.2 C24.12,419.97 32.17,418.58 38.6,417.5 C45.03,416.42 51.47,415.23 57.9,413.7 C64.33,412.17 70.77,410.50 77.2,408.3 C83.63,406.10 90.87,402.77 96.5,400.5 C102.13,398.23 107.13,395.98 111,394.7 C114.87,393.42 115.70,393.37 119.7,392.8 C123.70,392.23 131.62,391.45 135,391.3 C138.38,391.15 135.95,390.85 140,391.9 C144.05,392.95 153.52,396.10 159.3,397.6 C165.08,399.10 168.27,399.83 174.7,400.9 C181.13,401.97 190.82,402.93 197.9,404 C204.98,405.07 211.40,406.43 217.2,407.3 C223.00,408.17 227.87,409.10 232.7,409.2 C237.53,409.30 241.70,408.63 246.2,407.9 C250.70,407.17 254.88,406.08 259.7,404.8 C264.52,403.52 270.05,402.20 275.1,400.2 C280.15,398.20 284.35,395.38 290,392.8 C295.65,390.22 302.95,387.27 309,384.7 C315.05,382.13 321.17,379.27 326.3,377.4 C331.43,375.53 335.28,373.83 339.8,373.5 C344.32,373.17 348.88,373.95 353.4,375.4 C357.92,376.85 361.43,378.98 366.9,382.2 C372.37,385.42 379.77,390.68 386.2,394.7 C392.63,398.72 400.03,402.92 405.5,406.3 C410.97,409.68 414.92,412.48 419,415 C423.08,417.52 425.97,419.30 430,421.4 C434.03,423.50 439.08,425.60 443.2,427.6 C447.32,429.60 450.52,431.95 454.7,433.4 C458.88,434.85 463.78,435.82 468.3,436.3 C472.82,436.78 476.98,436.73 481.8,436.3 C486.62,435.87 493.02,434.25 497.2,433.7 C501.38,433.15 503.68,432.90 506.9,433 C510.12,433.10 512.65,433.75 516.5,434.3 C520.35,434.85 525.17,435.88 530,436.3 C534.83,436.72 540.67,436.80 545.5,436.8 C550.33,436.80 554.92,436.72 559,436.3 C563.08,435.88 566.50,435.68 570,434.3 C573.50,432.92 576.33,430.88 580,428 C583.67,425.12 590.00,418.83 592,417" fill="none" stroke="#4ec1e0" stroke-width="1.1"/>
<line x1="0" y1="197.2" x2="739" y2="197.2" stroke="#e99aa5" stroke-width="1" stroke-dasharray="2 2"/>
<line x1="394.5" y1="224.8" x2="683.5" y2="224.8" stroke="#f500ff" stroke-width="2.8"/>
<polygon points="322.53,77.62 510.70,315.52 508.94,316.92 518.00,321.20 515.81,311.42 514.05,312.83 323.07,77.18" fill="#ff2b2b"/>
<polygon points="519.04,321.65 754.79,99.00 756.17,100.44 759.70,91.40 750.50,94.51 751.88,95.96 518.56,321.15" fill="#ff2b2b"/>
<polygon points="591.65,197.01 608.02,216.55 606.10,218.31 615.50,221.90 612.73,212.23 610.82,213.98 592.75,195.99" fill="#f500ff"/>
<polygon points="620.70,221.50 669.58,159.35 671.73,160.98 674.20,150.30 664.57,155.54 666.72,157.17 619.90,220.90" fill="#f500ff"/>
<path d="M324.8 72.6 H331" stroke="#9aa0b0" stroke-width="0.9" stroke-dasharray="1 1"/><path d="M508.5 320.6 H513" stroke="#9aa0b0" stroke-width="0.9" stroke-dasharray="1 1"/>
<circle cx="592.2" cy="196.8" r="4.8" fill="#f0a0aa" opacity="0.45"/><circle cx="592.2" cy="196.8" r="2" fill="#e05565" opacity="0.8"/>
</svg>

<!-- second row -->

<svg class="ic" style="left:0;top:20px" width="30" height="24" viewBox="0 20 30 24"><circle cx="13.75" cy="32.4" r="5.5" fill="#e8b437"/><g fill="#fff"><path d="M12.3 30.5 H15.1 L15.5 32.2 H11.9 Z"/><path d="M10.9 33.1 H13.1 L13.4 35 H10.5 Z"/><path d="M14.4 33.1 H16.7 L17 35 H14.1 Z"/></g></svg>
<div class="a" style="left:111px;top:32px;width:0;height:0;border-left:2px solid transparent;border-right:2px solid transparent;border-top:2.5px solid #555"></div>
<div class="a" style="left:121px;top:29px;width:1px;height:9px;background:#d8dae0"></div>
<div class="a" style="left:160px;top:32px;width:0;height:0;border-left:2px solid transparent;border-right:2px solid transparent;border-top:2.5px solid #555"></div>

<!-- small right buttons -->
<div class="btn" style="left:690.3px;top:25.9px;width:12.3px;height:13.5px"></div>
<div class="btn" style="left:706.3px;top:25.9px;width:12.3px;height:13.5px"></div>
<div class="btn" style="left:722.8px;top:25.9px;width:12.5px;height:13.5px"></div>
<div class="btn" style="left:741.4px;top:25.9px;width:12.6px;height:13.5px"></div>
<div class="btn" style="left:757.9px;top:25.9px;width:12.6px;height:13.5px"></div>
<svg class="ic" style="left:680px;top:20px" width="97" height="25" viewBox="680 20 97 25">
 <g fill="none" stroke="#4f5468" stroke-width="1.1" stroke-linecap="round" stroke-linejoin="round">
  <path d="M693.1 35.5 H699.9" stroke-width="1.2"/><path d="M693.1 31.7 L695.7 29.1 L697.7 33.4 L699.9 31.3" stroke-width="1.2"/>
  <path d="M709.9 35.3 L710.3 33.6 L714.6 29.3 L716.1 30.8 L711.8 35.1 Z" fill="#4f5468" stroke-width="0.9"/><path d="M710 35.5 H716" stroke-width="1.1"/>
  <rect x="725.9" y="29.6" width="1.7" height="3.2" rx="0.8" fill="#4f5468" stroke-width="0.9"/><rect x="729.7" y="31.7" width="1.7" height="3.4" rx="0.8" fill="#4f5468" stroke-width="0.9"/>
  <path d="M745.6 34.8 L750.2 30.4" stroke-width="1.2"/><path d="M744.8 33.4 L744.8 35.6 L747 35.6 Z M751 29.6 L751 31.8 L748.8 29.6 Z" fill="#4f5468" stroke-width="0.8"/>
  <path d="M761 29.4 L767.8 36 M767.8 29.4 L761 36" stroke-width="1.2"/>
 </g>
</svg>
<div class="hl" style="left:0;top:42.5px;width:740px;background:#eff1f4"></div>

<!-- order boxes -->
<div class="a" style="left:8px;top:45px;width:55px;height:23px;background:#fbe5e8;border:1px solid #f0b3ba;border-radius:3px"></div>
<div class="a" style="left:67px;top:46px;width:41px;height:21px;background:#f0f1f5;border:1px solid #e0e2e8;border-radius:3px"></div>
<svg class="ic" style="left:98px;top:48px" width="8" height="16"><path d="M2.1 4.7 L4.15 2.4 L6.2 4.7 Z M2.1 12.2 L4.15 14.6 L6.2 12.2 Z" fill="#6a6f80"/></svg>
<div class="a" style="left:112.3px;top:45px;width:54.8px;height:23px;background:#d8f0ea;border:1px solid #9fd8c8;border-radius:3px;box-shadow:0 2px 6px rgba(120,200,180,0.25)"></div>

<svg class="ic" style="left:360px;top:310px" width="60" height="35" viewBox="360 310 60 35">
 <circle cx="378.2" cy="328.5" r="8.4" fill="#fff" stroke="#8a8fa0" stroke-width="1.0"/>
 <circle cx="399.8" cy="328.5" r="8.4" fill="#fff" stroke="#8a8fa0" stroke-width="1.0"/>
 <g fill="#5d6275"><rect x="375.1" y="325.9" width="1.4" height="5.7"/><path d="M376.6 328.75 L381 325.9 V331.6 Z"/>
 <rect x="401.5" y="325.9" width="1.4" height="5.7"/><path d="M401.4 328.75 L397 325.9 V331.6 Z"/></g>
</svg>
<div class="a" style="left:676px;top:443px;width:75px;height:1px;background:#eef0f5"></div>
<!-- axis -->
<div class="a" style="left:739.8px;top:191px;width:36px;height:12.5px;background:#d9404f"></div>
<svg class="ic" style="left:765px;top:135px" width="12" height="46"><path d="M1 4 L12 1 V45 L1 42 Z" fill="#e9ebf0"/><path d="M4.5 20 L7.5 23 L4.5 26" fill="none" stroke="#5a5f73" stroke-width="1.2"/></svg>

<!-- MACD header -->
<svg class="ic" style="left:0;top:350px" width="46" height="16"><g fill="none" stroke="#6b7080" stroke-width="1.1"><path d="M8.3 4.8 L16.1 12.7 M16.1 4.8 L8.3 12.7"/><path d="M25.8 4 L29.5 6.2 V10.6 L25.8 12.8 L22.1 10.6 V6.2 Z"/><circle cx="25.8" cy="8.4" r="1.3"/><rect x="35.5" y="5" width="7.5" height="7.5"/><path d="M39.2 6.5 V11 M37 8.7 H41.5"/></g></svg>

<!-- chart labels -->
<div class="tx" id="tc0" style="left:12.00px;top:5.70px;font-size:9.3px;color:#3d4150;transform:scaleX(1.1012)">分时</div>
<div class="tx" id="tc1" style="left:43.20px;top:5.70px;font-size:9.3px;color:#3d4150;transform:scaleX(1.0125)">分</div>
<div class="tx" id="td1" style="left:38.00px;top:5.95px;font-size:10px;color:#3d4150;transform:scaleX(0.8837)">1</div>
<div class="tx" id="tc2" style="left:65.60px;top:5.70px;font-size:9.3px;color:#3d4150">分</div>
<div class="tx" id="td2" style="left:61.60px;top:5.95px;font-size:10px;color:#3d4150;transform:scaleX(0.9342)">5</div>
<div class="tx" id="tc3" style="left:93.20px;top:5.70px;font-size:9.3px;color:#3d4150">分</div>
<div class="tx" id="td3" style="left:83.60px;top:5.95px;font-size:10px;color:#3d4150;transform:scaleX(0.7987)">30</div>
<div class="tx" id="tc4" style="left:113.80px;top:5.70px;font-size:9.3px;color:#3d4150;transform:scaleX(1.2896)">时</div>
<div class="tx" id="td4" style="left:111.00px;top:5.95px;font-size:10px;color:#3d4150;transform:scaleX(0.4732)">1</div>
<div class="tx" id="tc5" style="left:133.60px;top:5.85px;font-size:9.3px;color:#3d4150;transform:scaleX(0.9623)">日</div>
<div class="tx" id="td5" style="left:140.80px;top:5.95px;font-size:10px;color:#3d4150;transform:scaleX(0.9399)">K</div>
<div class="tx" id="tc6" style="left:161.20px;top:5.70px;font-size:9.3px;color:#3d4150;transform:scaleX(1.0125)">分</div>
<div class="tx" id="td6" style="left:155.80px;top:5.95px;font-size:10px;color:#3d4150;transform:scaleX(0.7608)">2</div>
<div class="tx" id="tc7" style="left:183.20px;top:5.70px;font-size:9.3px;color:#3d4150">分</div>
<div class="tx" id="td7" style="left:179.20px;top:5.95px;font-size:10px;color:#3d4150;transform:scaleX(0.7204)">3</div>
<div class="tx" id="tc8" style="left:205.80px;top:5.70px;font-size:9.3px;color:#3d4150;transform:scaleX(1.0125)">分</div>
<div class="tx" id="td8" style="left:200.40px;top:5.95px;font-size:10px;color:#3d4150;transform:scaleX(0.7474)">4</div>
<div class="tx" id="tc9" style="left:233.20px;top:5.70px;font-size:9.3px;color:#3d4150;transform:scaleX(1.0125)">分</div>
<div class="tx" id="td9" style="left:223.20px;top:5.95px;font-size:10px;color:#3d4150;transform:scaleX(0.9321)">10</div>
<div class="tx" id="tc10" style="left:261.20px;top:5.70px;font-size:9.3px;color:#3d4150;transform:scaleX(1.0357)">分</div>
<div class="tx" id="td10" style="left:250.00px;top:5.95px;font-size:10px;color:#3d4150;transform:scaleX(0.9000)">15</div>
<div class="tx" id="tc11" style="left:288.40px;top:5.70px;font-size:9.3px;color:#3d4150;transform:scaleX(1.1463)">分</div>
<div class="tx" id="td11" style="left:278.80px;top:5.95px;font-size:10px;color:#3d4150;transform:scaleX(0.8984)">20</div>
<div class="tx" id="tc12" style="left:309.80px;top:5.70px;font-size:9.3px;color:#3d4150;transform:scaleX(1.2166)">时</div>
<div class="tx" id="td12" style="left:306.80px;top:5.95px;font-size:10px;color:#3d4150;transform:scaleX(0.9005)">2</div>
<div class="tx" id="tc13" style="left:332.60px;top:5.70px;font-size:9.3px;color:#3d4150;transform:scaleX(1.1684)">时</div>
<div class="tx" id="td13" style="left:329.60px;top:5.95px;font-size:10px;color:#3d4150;transform:scaleX(0.7608)">3</div>
<div class="tx" id="tc14" style="left:354.00px;top:5.70px;font-size:9.3px;color:#fff;transform:scaleX(1.2656)">时</div>
<div class="tx" id="td14" style="left:351.00px;top:5.95px;font-size:10px;color:#fff;transform:scaleX(0.7504)">4</div>
<div class="tx" id="tc15" style="left:377.60px;top:5.70px;font-size:9.3px;color:#3d4150;transform:scaleX(1.2706)">时</div>
<div class="tx" id="td15" style="left:373.60px;top:5.95px;font-size:10px;color:#3d4150;transform:scaleX(0.7204)">6</div>
<div class="tx" id="tc16" style="left:395.20px;top:6.05px;font-size:9.3px;color:#3d4150;transform:scaleX(1.0664)">更多</div>
<div class="tx" id="s1" style="left:21.00px;top:27.40px;font-size:10.5px;color:#f26a3a;transform:scaleX(0.9535)">现货黄金</div>
<div class="tx" id="s2" style="left:65.40px;top:28.25px;font-size:11px;color:#4b5063;transform:scaleX(0.9333)">XAUUSD</div>
<div class="tx" id="s3" style="left:132.40px;top:26.20px;font-size:10.8px;color:#4b5063;transform:scaleX(1.0232)">小时</div>
<div class="tx" id="s3d" style="left:128.00px;top:27.70px;font-size:11px;color:#4b5063;transform:scaleX(0.8333)">4</div>
<div class="tx" id="s4" style="left:170.90px;top:26.75px;font-size:11.2px;font-weight:bold;color:#12a286;transform:scaleX(0.9904)">3353.10</div>
<div class="tx" id="s5" style="left:217.10px;top:26.75px;font-size:11.2px;font-weight:bold;color:#12a286;transform:scaleX(1.0170)">-9.93</div>
<div class="tx" id="s6" style="left:249.90px;top:26.75px;font-size:11.2px;font-weight:bold;color:#12a286;transform:scaleX(0.9891)">-0.30%</div>
<div class="tx" id="s7" style="left:288.00px;top:28.80px;font-size:9.3px;color:#6b7080;transform:scaleX(1.1179)">高</div>
<div class="tx" id="s8" style="left:299.10px;top:29.20px;font-size:10px;color:#e0606e;transform:scaleX(0.8421)">3368.58</div>
<div class="tx" id="s9" style="left:332.00px;top:28.60px;font-size:9.3px;color:#6b7080;transform:scaleX(0.8591)">开</div>
<div class="tx" id="s10" style="left:342.80px;top:29.20px;font-size:10px;color:#e0606e;transform:scaleX(0.8421)">3363.07</div>
<div class="tx" id="s11" style="left:376.00px;top:28.80px;font-size:9.3px;color:#6b7080;transform:scaleX(0.8482)">低</div>
<div class="tx" id="s12" style="left:385.70px;top:29.20px;font-size:10px;color:#2aa98f;transform:scaleX(0.8228)">3345.04</div>
<div class="tx" id="s13" style="left:419.00px;top:29.50px;font-size:9.3px;color:#6b7080;transform:scaleX(0.8961)">昨收</div>
<div class="tx" id="s14" style="left:437.30px;top:28.85px;font-size:10px;color:#6b7080;transform:scaleX(0.8339)">3363.03</div>
<div class="tx" id="o1" style="left:18.70px;top:52.20px;font-size:11px;color:#555;transform:scaleX(0.8413)">3353.30</div>
<div class="tx" id="o2" style="left:72.90px;top:51.35px;font-size:10.5px;color:#555;transform:scaleX(0.8500)">0.01</div>
<div class="tx" id="o3" style="left:123.20px;top:52.40px;font-size:11px;color:#555;transform:scaleX(0.8310)">3353.10</div>
<div class="tx" id="o4" style="left:6.70px;top:73.10px;font-size:9px;color:#f47a52;transform:scaleX(0.8964)">按 (空格)可显示主图指标线</div>
<div class="tx" id="a1" style="left:743.00px;top:44.50px;font-size:9px;color:#e0606e;transform:scaleX(0.9174)">3460.11</div>
<div class="tx" id="a2" style="left:743.00px;top:116.60px;font-size:9px;color:#e0606e;transform:scaleX(0.9189)">3406.76</div>
<div class="tx" id="a3" style="left:743.30px;top:271.00px;font-size:9px;color:#2aa98f;transform:scaleX(0.9375)">3300.06</div>
<div class="tx" id="a4" style="left:742.20px;top:340.85px;font-size:9px;color:#2aa98f;transform:scaleX(0.9255)">3246.71</div>
<div class="tx" id="a5" style="left:743.30px;top:193.25px;font-size:9px;color:#fff;transform:scaleX(0.9256)">3353.10</div>
<div class="tx" id="a6" style="left:737.50px;top:370.50px;font-size:9px;color:#6b7080;transform:scaleX(0.9517)">21.60029</div>
<div class="tx" id="a7" style="left:742.20px;top:402.60px;font-size:9px;color:#6b7080;transform:scaleX(0.9257)">2.33041</div>
<div class="tx" id="a8" style="left:734.40px;top:433.35px;font-size:9px;color:#6b7080;transform:scaleX(0.9506)">-16.93946</div>
<div class="tx" id="m1" style="left:45.00px;top:354.35px;font-size:9.8px;color:#4b5063;transform:scaleX(0.8619)">MACD(12,26,9)</div>
<div class="tx" id="m2" style="left:107.00px;top:355.45px;font-size:9.3px;color:#a48be0;transform:scaleX(0.9151)">MACD:17.91558</div>
<div class="tx" id="m3" style="left:174.00px;top:355.45px;font-size:9.3px;color:#f5a560;transform:scaleX(0.8947)">DIF:4.40415</div>
<div class="tx" id="m4" style="left:225.00px;top:355.45px;font-size:9.3px;color:#4cc1df;transform:scaleX(0.9019)">DEA:-4.55364</div>
<div class="tx" id="l1" style="left:302.00px;top:63.20px;font-size:10px;color:#3a3a3a;transform:scaleX(0.7761)">3438.77</div>
<div class="tx" id="l2" style="left:332.00px;top:70.60px;font-size:10px;color:#6e7489;transform:scaleX(0.8342)">3438.77</div>
<div class="tx" id="l3" style="left:100.00px;top:157.35px;font-size:10px;color:#3a3a3a;transform:scaleX(0.7613)">3375</div>
<div class="tx" id="l4" style="left:149.00px;top:244.35px;font-size:10px;color:#3a3a3a;transform:scaleX(0.7982)">3320</div>
<div class="tx" id="l5" style="left:45.00px;top:260.05px;font-size:10px;color:#3a3a3a;transform:scaleX(0.7598)">3310</div>
<div class="tx" id="l6" style="left:198.00px;top:260.50px;font-size:10px;color:#3a3a3a;transform:scaleX(0.7582)">3309</div>
<div class="tx" id="l7" style="left:1.00px;top:298.80px;font-size:10px;color:#3a3a3a;transform:scaleX(0.7720)">3282</div>
<div class="tx" id="l8" style="left:434.00px;top:273.20px;font-size:10px;color:#3a3a3a;transform:scaleX(0.7534)">3301</div>
<div class="tx" id="l9" style="left:467.00px;top:214.20px;font-size:10px;color:#3a3a3a;transform:scaleX(0.7791)">3334.06</div>
<div class="tx" id="l10" style="left:477.00px;top:317.65px;font-size:10px;color:#6e7489;transform:scaleX(0.8286)">3268.05</div>
<div class="tx" id="l11" style="left:582.00px;top:166.25px;font-size:10px;color:#3a3a3a;transform:scaleX(0.7882)">3368</div>
</body></html>
